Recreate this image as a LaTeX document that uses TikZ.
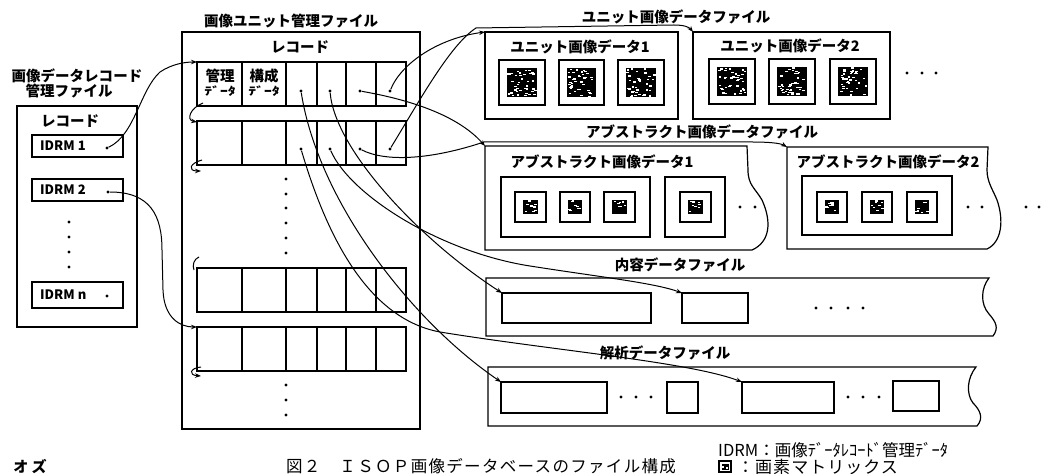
\documentclass[tikz,border=0pt]{standalone}
\usepackage{graphicx}
\usepackage{fontspec}
\setmainfont{Noto Sans CJK JP}
\usetikzlibrary{arrows.meta}
\tikzset{
 frame/.style={draw, line width=1.2bp, inner sep=0, outer sep=0},
 lbl/.style={font=\bfseries\fontsize{14.5bp}{16bp}\selectfont, inner sep=0},
 idl/.style={font=\bfseries\fontsize{13bp}{14bp}\selectfont, inner sep=0, anchor=west},
 capt/.style={font=\fontsize{16.5bp}{18bp}\selectfont\addfontfeatures{LetterSpace=8}, inner sep=0},
 legt/.style={font=\fontsize{16.5bp}{18bp}\selectfont, inner sep=0, anchor=west},
 pt/.style={circle, fill, inner sep=0, minimum size=3.2bp},
 link/.style={line width=1bp, -{Stealth[length=6bp,width=4.5bp]}},
 plain/.style={line width=1bp},
 edge/.style={line width=1.2bp, fill=white},
 cellsub/.style={inner sep=0, font=\bfseries\fontsize{14bp}{14bp}\selectfont},
}
\pgfmathsetseed{7}
\newcommand{\mybox}[6][]{\node[frame,#1,minimum width={(#5-#3)*1bp},minimum height={(#6-#4)*1bp}] (#2) at ({(#3+#5)/2},{(#4+#6)/2}) {};}
\newcommand{\pixbox}[6]{%
  \mybox[fill=white]{#1}{#2}{#3}{#4}{#5}%
  \fill[black] ({#2+#6},{#3+#6}) rectangle ({#4-#6},{#5-#6});%
  \pgfmathtruncatemacro\nsp{max(2,(#4-#2-2*#6)*(#5-#3-2*#6)/22)}%
  \foreach \i in {1,...,\nsp}{%
    \pgfmathsetmacro\px{#2+#6+rnd*(#4-#2-2*#6-2.5)}%
    \pgfmathsetmacro\py{#3+#6+rnd*(#5-#3-2*#6-1.3)}%
    \fill[white] (\px,\py) rectangle ++(2.5,1.3);}%
}
\begin{document}
\begin{tikzpicture}[x=1bp,y=-1bp]
\useasboundingbox (0,0) rectangle (1042,474);
% ---------- left file ----------
\node[lbl] (tl1) at (77,76) {画像データレコード};
\node[lbl] (tl2) at (69,91) {管理ファイル};
\mybox{leftfile}{17}{106}{137}{327}
\node[lbl] (tlrec) at (70,121) {レコード};
\mybox{idrm1}{32}{135}{123}{157}
\node[idl] (ti1) at (40,146) {IDRM 1};
\node[pt] (di1) at (107,148) {};
\mybox{idrm2}{32}{179}{123}{201}
\node[idl] (ti2) at (40,190) {IDRM 2};
\node[pt] (di2) at (108,192) {};
\foreach \yy [count=\k] in {222,237,252,267} {\node[pt] (vl\k) at (69,\yy) {};}
\mybox{idrmn}{32}{282}{123}{308}
\node[idl] (tin) at (40,295) {IDRM n};
\node[pt] (din) at (107,296) {};
% ---------- middle file ----------
\node[lbl] (tm) at (291,21) {画像ユニット管理ファイル};
\mybox{midfile}{182}{32}{420}{429}
\node[lbl] (tmrec) at (300,47) {レコード};
\foreach \r/\ya/\yb in {1/62/106,2/121/165,3/268/312,4/327/371}{
  \foreach \c/\xa/\xb in {1/197/242,2/242/286,3/286/317,4/317/346,5/346/376,6/376/406}{
    \mybox{r\r-c\c}{\xa}{\ya}{\xb}{\yb}
  }
}
\node[lbl] (k1) at (220,76) {管理};
\node[cellsub] (k2) at (220,91) {\scalebox{1.12}[0.8]{ﾃﾞｰﾀ}};
\node[lbl] (k3) at (264,76) {構成};
\node[cellsub] (k4) at (264,91) {\scalebox{1.12}[0.8]{ﾃﾞｰﾀ}};
\node[pt] (d13) at (301,91) {};
\node[pt] (d14) at (330,91) {};
\node[pt] (d15) at (360,91) {};
\node[pt] (d16) at (390,91) {};
\node[pt] (d23) at (301,149) {};
\node[pt] (d24) at (330,149) {};
\node[pt] (d25) at (360,149) {};
\node[pt] (d26) at (390,149) {};
\foreach \yy [count=\k] in {179,194,208,223,238,253,385,400,415} {\node[pt] (vm\k) at (286,\yy) {};}
% ---------- unit image data file ----------
\node[lbl] (tu) at (676,17) {ユニット画像データファイル};
\mybox{unit1}{485}{32}{678}{119}
\node[lbl] (tu1) at (580,47) {ユニット画像データ1};
\pixbox{u11}{499}{60}{545}{105}{8}
\pixbox{u12}{559}{60}{604}{105}{8}
\pixbox{u13}{618}{60}{664}{105}{8}
\mybox{unit2}{693}{32}{890}{119}
\node[lbl] (tu2) at (790,46) {ユニット画像データ2};
\pixbox{u21}{709}{59}{755}{104}{8}
\pixbox{u22}{769}{59}{815}{104}{8}
\pixbox{u23}{830}{59}{876}{104}{8}
\foreach \xx [count=\k] in {907,922,936} {\node[pt] (ud\k) at (\xx,73) {};}
% ---------- abstract image data file ----------
\node[lbl] (ta) at (702,132) {アブストラクト画像データファイル};
\coordinate (abs1) at (485,146);
\draw[edge] (abs1) -- (747,146) -- (748,170) .. controls (748,185) and (755,188) .. (762,200) .. controls (772,222) and (770,242) .. (752,250) -- (485,250) -- cycle;
\node[lbl] (ta1) at (602,162) {アブストラクト画像データ1};
\mybox{a1in}{501}{177}{650}{237}
\pixbox{a11}{515}{192}{546}{222}{8}
\pixbox{a12}{560}{192}{590}{222}{8}
\pixbox{a13}{604}{192}{635}{222}{8}
\mybox{a1in2}{665}{177}{725}{237}
\pixbox{a14}{680}{192}{711}{222}{8}
\node[pt] (ad1) at (740,207) {};
\node[pt] (ad2) at (755,207) {};
\coordinate (abs2) at (787,147);
\draw[edge] (abs2) -- (988,147) -- (987,170) .. controls (987,182) and (993,190) .. (997,200) .. controls (1004,220) and (1002,242) .. (987,249) -- (787,249) -- cycle;
\node[lbl] (ta2) at (888,162) {アブストラクト画像データ2};
\mybox{a2in}{802}{176}{952}{235}
\pixbox{a21}{817}{192}{847}{222}{8}
\pixbox{a22}{862}{192}{892}{222}{8}
\pixbox{a23}{907}{192}{937}{222}{8}
\node[pt] (ad3) at (968,207) {};
\node[pt] (ad4) at (982,207) {};
\node[pt] (ad5) at (1026,207) {};
\node[pt] (ad6) at (1039,207) {};
% ---------- content data file ----------
\node[lbl] (tc) at (680,265) {内容データファイル};
\draw[edge] (486,278) -- (989,278) .. controls (981,288) and (980,304) .. (989,314) .. controls (996,322) and (999,328) .. (993,336) -- (486,336) -- cycle;
\mybox{cont1}{502}{293}{651}{323}
\mybox{cont2}{682}{293}{748}{323}
\foreach \xx [count=\k] in {816,831,848,863} {\node[pt] (cd\k) at (\xx,308) {};}
% ---------- analysis data file ----------
\node[lbl] (tn) at (665,353) {解析データファイル};
\draw[edge] (488,367) -- (976,367) .. controls (967,378) and (966,394) .. (973,403) .. controls (980,410) and (984,418) .. (977,426) -- (488,426) -- cycle;
\mybox{anal1}{501}{382}{607}{413}
\foreach \xx [count=\k] in {621,636,651} {\node[pt] (nd\k) at (\xx,397) {};}
\mybox{anal2}{667}{382}{698}{413}
\mybox{anal3}{742}{382}{834}{413}
\foreach \xx [count=\k] in {848,863,879} {\node[pt] (ne\k) at (\xx,397) {};}
\mybox{anal4}{893}{381}{939}{411}
% ---------- hooks between records ----------
\coordinate (h1s) at ([xshift=6bp,yshift=3bp]r1-c1.south west);
\coordinate (h1e) at ([yshift=-1bp]r2-c1.north west);
\draw[link] (h1s) .. controls (190,108) and (186,120) .. (h1e);
\coordinate (h2s) at ([xshift=5bp,yshift=5bp]r2-c1.south west);
\coordinate (h2e) at ([xshift=4bp,yshift=-6bp]r2-c1.south west);
\draw[link] (h2s) .. controls (190,163) and (187,171) .. (h2e);
\coordinate (h3s) at ([xshift=2bp,yshift=11bp]r3-c1.north west);
\coordinate (h3e) at ([xshift=-3bp,yshift=-2bp]r3-c1.north west);
\draw[plain] (h3s) .. controls (194,259) and (192,265) .. (h3e);
\coordinate (h4s) at ([xshift=4bp,yshift=4bp]r4-c1.south west);
\coordinate (h4e) at ([xshift=4bp,yshift=-5bp]r4-c1.south west);
\draw[link] (h4s) .. controls (190,368) and (188,375) .. (h4e);
% ---------- connectors ----------
\draw[link] (di1) .. controls (135,135) and (140,90) .. (160,72) .. controls (172,64) and (185,62) .. (r1-c1.north west);
\draw[link] (di2) .. controls (150,192) and (162,215) .. (162,250) -- (163,290) .. controls (164,318) and (180,327) .. (r4-c1.north west);
\draw[link] (d16) .. controls (402,62) and (440,38) .. (unit1.north west);
\draw[link] (d26) .. controls (420,100) and (450,45) .. (476,28) -- (674,25) .. controls (684,25) and (689,27) .. (unit2.north west);
\draw[link] (d15) .. controls (400,98) and (455,112) .. (abs1);
\draw[link] (d25) .. controls (385,162) and (430,160) .. (484,142) -- (752,142) .. controls (768,142) and (780,143) .. (abs2);
\draw[link] (d14) .. controls (335,150) and (420,240) .. (cont1.north west);
\draw[link] (d24) .. controls (350,195) and (440,252) .. (530,266) .. controls (600,277) and (655,283) .. (cont2.north west);
\draw[link] (d13) .. controls (318,200) and (410,320) .. (anal1.north west);
\draw[link] (d23) .. controls (325,230) and (365,318) .. (440,332) .. controls (550,350) and (690,362) .. (anal3.north west);
% ---------- bottom texts ----------
\node[font=\bfseries\fontsize{15bp}{16bp}\selectfont, inner sep=0] (oz) at (30,467) {オ ズ};
\node[capt] (cap) at (481,466) {図２　ＩＳＯＰ画像データベースのファイル構成};
\node[legt] (leg1) at (718,450) {IDRM：画像ﾃﾞｰﾀﾚｺｰﾄﾞ管理ﾃﾞｰﾀ};
\pixbox{legicon}{719}{461}{731}{472}{2.5}
\node[legt, font=\fontsize{17bp}{18bp}\selectfont\addfontfeatures{LetterSpace=6}] (leg2) at (737,467) {：画素マトリックス};
\end{tikzpicture}
\end{document}
